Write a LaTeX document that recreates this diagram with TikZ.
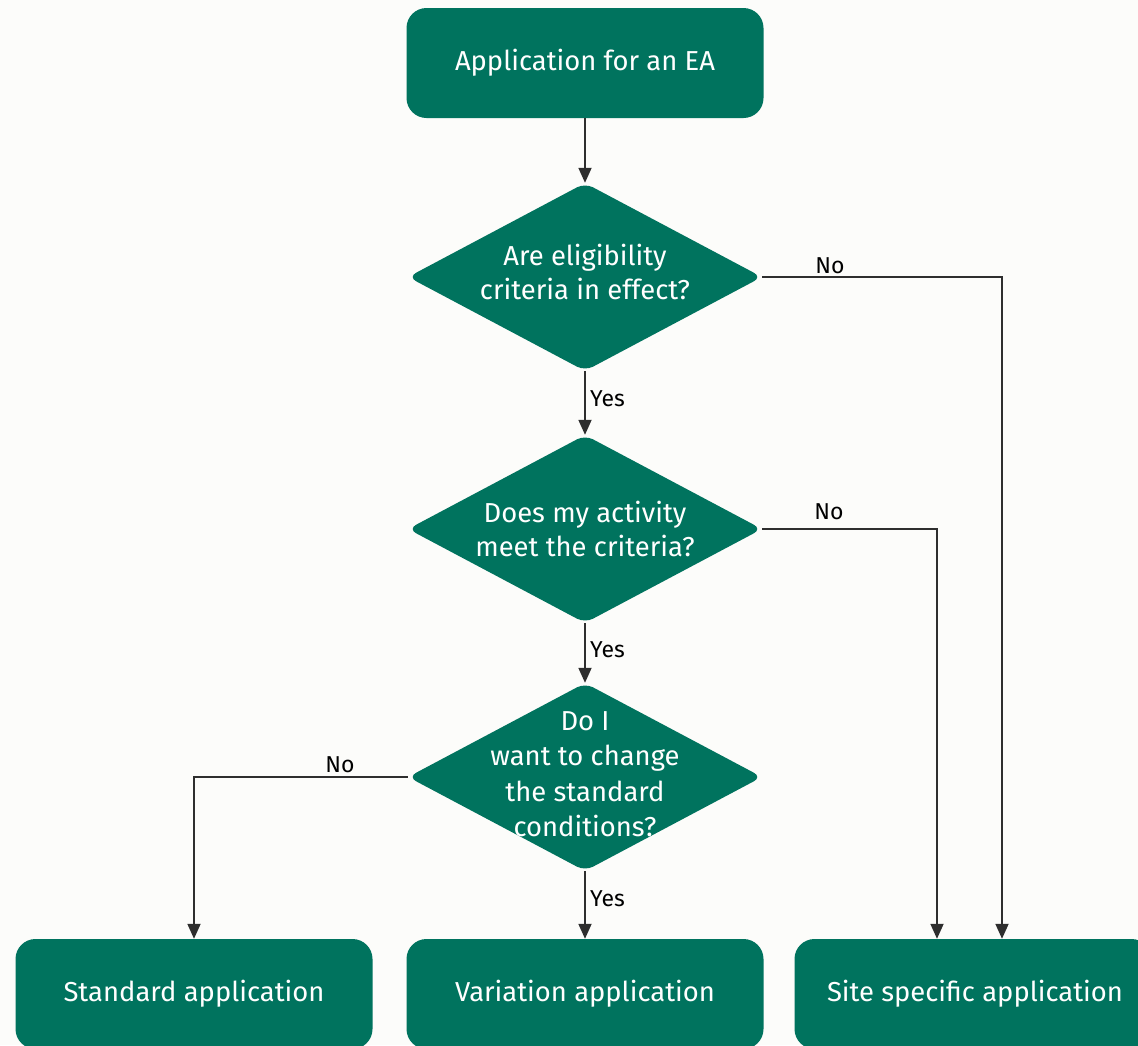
\documentclass[tikz,border=0pt]{standalone}
\usepackage{fontspec}
\setmainfont{Fira Sans}
\usetikzlibrary{shapes.geometric,arrows.meta,calc}
\definecolor{teal}{HTML}{00735E}
\definecolor{bgc}{HTML}{FCFCFA}
\definecolor{linec}{HTML}{2E2E2E}
\begin{document}
\begin{tikzpicture}[x=1pt,y=-1pt,
  box/.style={rectangle,rounded corners=20pt,fill=teal,minimum width=357pt,minimum height=110pt,inner sep=0pt},
  dia/.style={diamond,rounded corners=9pt,fill=teal,minimum width=354pt,minimum height=188pt,inner sep=0pt},
  btext/.style={text=white,font=\fontsize{27.4}{34}\selectfont,align=center,inner sep=0pt},
  lbl/.style={text=black,font=\fontsize{23}{27}\selectfont,inner sep=0pt},
  conn/.style={draw=linec,line width=1.8pt,-{Triangle[length=15pt,width=13pt]}},
  plain/.style={draw=linec,line width=1.8pt}]
\useasboundingbox (0,0) rectangle (1138,1045);
\fill[bgc] (0,0) rectangle (1138,1045);
\clip (0,0) rectangle (1138,1045);
% nodes
\node[box] (top) at (585,63) {};
\node[btext] (topt) at (585,63) {Application for an EA};
\node[dia] (d1) at (585,277) {};
\node[btext] (d1t) at (585,272) {Are eligibility\\criteria in effect?};
\node[dia] (d2) at (585,529) {};
\node[btext] (d2t) at (585,529) {Does my activity\\meet the criteria?};
\node[dia] (d3) at (585,777) {};
\node[btext,font=\fontsize{27.4}{35.5}\selectfont] (d3t) at (585,774) {Do I\\want to change\\the standard\\conditions?};
\node[box] (std) at (194,994) {};
\node[btext] (stdt) at (194,994) {Standard application};
\node[box] (var) at (585,994) {};
\node[btext] (vart) at (585,994) {Variation application};
\node[box] (site) at (973,994) {};
\node[btext] (sitet) at (975,994) {Site specific application};
\coordinate (s1) at ($(site.north)+(29,0)$);
\coordinate (s2) at ($(site.north)+(-36,0)$);
% connectors
\draw[conn] (top.south) -- (d1.north);
\draw[conn] (d1.south) -- (d2.north);
\draw[conn] (d2.south) -- (d3.north);
\draw[conn] (d3.south) -- (var.north);
\draw[conn] (d1.east) -| (s1);
\draw[conn] (d2.east) -| (s2);
\draw[conn] (d3.west) -| (std.north);
% labels
\node[lbl,anchor=west] (y1) at (590,399) {Yes};
\node[lbl,anchor=west] (y2) at (590,650) {Yes};
\node[lbl,anchor=west] (y3) at (590,899) {Yes};
\node[lbl] (n1) at (830,266) {No};
\node[lbl] (n2) at (829,512) {No};
\node[lbl] (n3) at (340,765) {No};
\end{tikzpicture}
\end{document}
